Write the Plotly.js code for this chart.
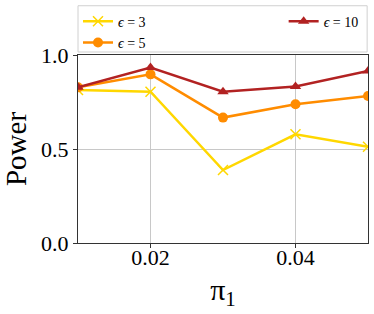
<!DOCTYPE html>
<html><head><meta charset="utf-8">
<script src="https://cdn.plot.ly/plotly-3.0.1.min.js"></script>
<style>html,body{margin:0;padding:0;background:#fff}#chart{width:374px;height:314px}</style>
</head><body><div id="chart"></div>
<script>
const pi1 = [0.01, 0.02, 0.03, 0.04, 0.05];
const eps3 = [0.814, 0.805, 0.388, 0.578, 0.512];
const eps5 = [0.828, 0.897, 0.667, 0.738, 0.782];
const eps10 = [0.828, 0.933, 0.805, 0.832, 0.915];
const seriesNames = ['<i>ϵ</i>\u2005=\u20053', '<i>ϵ</i>\u2005=\u20055', '<i>ϵ</i>\u2005=\u200510'];

const traces = [
  {x: pi1, y: eps3, name: seriesNames[0], mode: 'lines+markers', legend: 'legend',
   line: {color: '#FFD700', width: 2.5}, marker: {symbol: 'x-thin', size: 10, line: {color: '#FFD700', width: 1.5}, color: '#FFD700'}},
  {x: pi1, y: eps5, name: seriesNames[1], mode: 'lines+markers', legend: 'legend',
   line: {color: '#FF8C00', width: 2.5}, marker: {symbol: 'circle', size: 10, color: '#FF8C00'}},
  {x: pi1, y: eps10, name: seriesNames[2], mode: 'lines+markers', legend: 'legend2',
   line: {color: '#B22222', width: 2.5}, marker: {symbol: 'triangle-up', size: 10, color: '#B22222'}}
];

const legendFont = {family: 'Liberation Serif, DejaVu Serif, serif', size: 14, color: '#000'};

const layout = {
  width: 374, height: 314,
  margin: {l: 78, r: 6, t: 55, b: 71},
  paper_bgcolor: '#fff', plot_bgcolor: '#fff',
  font: {family: 'Liberation Serif, serif', color: '#000'},
  showlegend: true,
  legend: {
    orientation: 'v', x: 0, xanchor: 'left', y: 1.262, yanchor: 'top',
    bgcolor: 'rgba(0,0,0,0)', borderwidth: 0, font: legendFont, tracegroupgap: 0
  },
  legend2: {
    orientation: 'v', x: 0.985, xanchor: 'right', y: 1.262, yanchor: 'top',
    bgcolor: 'rgba(0,0,0,0)', borderwidth: 0, font: legendFont
  },
  shapes: [{
    type: 'rect', xref: 'paper', yref: 'paper', x0: 0.0, x1: 0.997, y0: 1.016, y1: 1.262,
    line: {color: '#d0d0d0', width: 1}, fillcolor: 'rgba(255,255,255,0.8)', layer: 'above'
  }],
  xaxis: {
    range: [0.01, 0.05], tickvals: [0.02, 0.04], ticktext: ['0.02', '0.04'],
    showgrid: true, gridcolor: '#c8c8c8', gridwidth: 1,
    showline: true, linecolor: '#333', linewidth: 1.2, mirror: true,
    ticks: 'outside', ticklen: 4, tickcolor: '#333',
    tickfont: {size: 22, family: 'Liberation Serif, serif'},
    ticklabelstandoff: -10,
    zeroline: false,
    title: {text: 'π<sub>1</sub>', font: {size: 30, family: 'Liberation Serif, serif'}, standoff: 10}
  },
  yaxis: {
    range: [0, 1], tickvals: [0, 0.5, 1.0], ticktext: ['0.0', '0.5', '1.0'],
    showgrid: true, gridcolor: '#c8c8c8', gridwidth: 1,
    showline: true, linecolor: '#333', linewidth: 1.2, mirror: true,
    ticks: 'outside', ticklen: 4, tickcolor: '#333',
    tickfont: {size: 22, family: 'Liberation Serif, serif'},
    zeroline: false,
    title: {text: 'Power', font: {size: 29, family: 'Liberation Serif, serif'}, standoff: 8}
  }
};

Plotly.newPlot('chart', traces, layout, {displayModeBar: false, staticPlot: true});
</script>
</body></html>
